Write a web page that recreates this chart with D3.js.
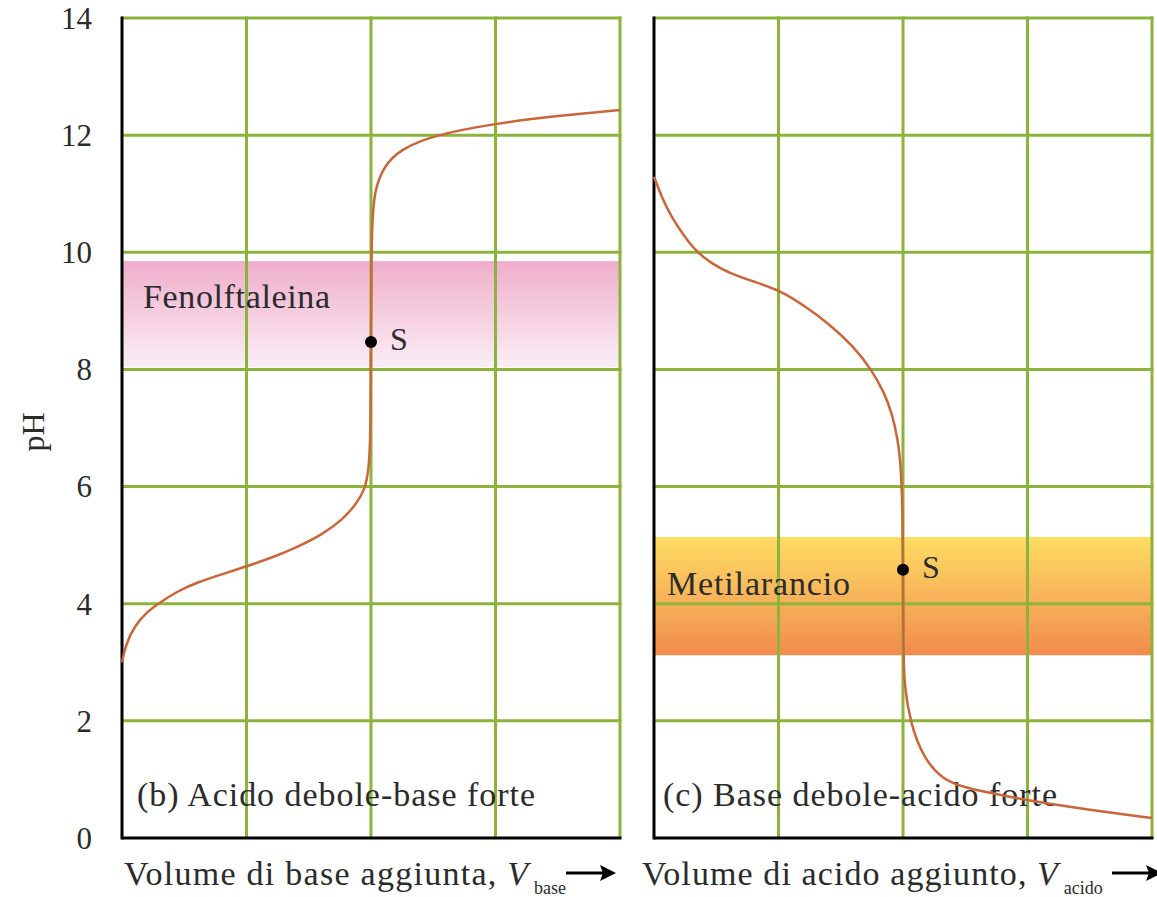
<!DOCTYPE html>
<meta charset="utf-8">
<style>
body { margin: 0; background: #fff; }
text { font-family: "Liberation Serif", "Times New Roman", serif; fill: #2b2b2b; }
.grid line { stroke: #8cb43c; stroke-width: 3; }
.axis-line { stroke: #000; stroke-width: 3; }
.curve { fill: none; stroke: #c9663a; stroke-width: 2.5; }
</style>
<body>
<svg width="1157" height="897"></svg>
<script src="https://cdn.jsdelivr.net/npm/d3@7"></script>
<script>

// data (volume in grid units 0..4, pH 0..14)
var phTicks = [0, 2, 4, 6, 8, 10, 12, 14];
var volTicks = [0, 1, 2, 3, 4];

var weakAcidVol = [0, 0.03, 0.1, 0.2, 0.29, 0.45, 0.61, 0.8, 1.0, 1.2, 1.41, 1.6, 1.77, 1.88, 1.95, 1.985, 1.997, 2.0, 2.003, 2.012, 2.03, 2.1, 2.23, 2.5, 3.0, 3.5, 4.0];
var weakAcidPH  = [3.0, 3.3, 3.62, 3.86, 4.0, 4.22, 4.37, 4.5, 4.64, 4.78, 4.97, 5.17, 5.43, 5.7, 5.94, 6.3, 7.0, 8.47, 10.0, 10.6, 11.06, 11.46, 11.75, 12.0, 12.2, 12.33, 12.43];

var weakBaseVol = [0, 0.06, 0.14, 0.25, 0.35, 0.47, 0.6, 0.8, 1.0, 1.2, 1.4, 1.6, 1.75, 1.85, 1.91, 1.96, 1.985, 1.997, 2.0, 2.003, 2.01, 2.06, 2.16, 2.32, 2.5, 2.7, 3.0, 3.5, 4.0];
var weakBasePH  = [11.29, 10.95, 10.6, 10.25, 9.99, 9.8, 9.65, 9.5, 9.36, 9.1, 8.79, 8.4, 7.99, 7.6, 7.26, 6.8, 6.3, 5.5, 4.58, 3.2, 2.6, 1.96, 1.38, 0.99, 0.86, 0.77, 0.64, 0.48, 0.34];

var equivVol = [2, 2];
var equivPH = [8.47, 4.58];

var indicatorNames = ["Fenolftaleina", "Metilarancio"];
var indicatorRanges = [[8.04, 9.85], [3.12, 5.14]];

var panelTitles = ["(b) Acido debole-base forte", "(c) Base debole-acido forte"];
var axisTitles = ["Volume di base aggiunta, ", "Volume di acido aggiunto, "];
var axisSubs = ["base", "acido"];

var svg = d3.select("svg");

var y = d3.scaleLinear().domain([0, 14]).range([838, 18]);
var xs = [
  d3.scaleLinear().domain([0, 4]).range([122, 620]),
  d3.scaleLinear().domain([0, 4]).range([654, 1152])
];

var defs = svg.append("defs");
var pink = defs.append("linearGradient").attr("id", "pink").attr("x1", 0).attr("y1", 0).attr("x2", 0).attr("y2", 1);
pink.append("stop").attr("offset", "0%").attr("stop-color", "#efaecb");
pink.append("stop").attr("offset", "100%").attr("stop-color", "#fbeef5");
var orange = defs.append("linearGradient").attr("id", "orange").attr("x1", 0).attr("y1", 0).attr("x2", 0).attr("y2", 1);
orange.append("stop").attr("offset", "0%").attr("stop-color", "#fedd62");
orange.append("stop").attr("offset", "50%").attr("stop-color", "#f8b45a");
orange.append("stop").attr("offset", "100%").attr("stop-color", "#f08c4c");
var fills = ["url(#pink)", "url(#orange)"];

var curves = [
  weakAcidVol.map(function(v, i) { return [v, weakAcidPH[i]]; }),
  weakBaseVol.map(function(v, i) { return [v, weakBasePH[i]]; })
];

var labelPos = [[143, 308], [667, 595]];

[0, 1].forEach(function(p) {
  var x = xs[p];
  var g = svg.append("g");

  // indicator band
  g.append("rect")
      .attr("x", x(0))
      .attr("width", x(4) - x(0))
      .attr("y", y(indicatorRanges[p][1]))
      .attr("height", y(indicatorRanges[p][0]) - y(indicatorRanges[p][1]))
      .attr("fill", fills[p]);

  // grid
  var grid = g.append("g").attr("class", "grid");
  grid.selectAll(".h").data(phTicks.slice(1)).enter().append("line")
      .attr("x1", x(0)).attr("x2", x(4) + 1.5)
      .attr("y1", function(d) { return y(d); })
      .attr("y2", function(d) { return y(d); });
  grid.selectAll(".v").data(volTicks.slice(1)).enter().append("line")
      .attr("y1", y(14) - 1.5).attr("y2", y(0))
      .attr("x1", function(d) { return x(d); })
      .attr("x2", function(d) { return x(d); });

  // black axes
  g.append("line").attr("class", "axis-line")
      .attr("x1", x(0)).attr("x2", x(0)).attr("y1", y(14) - 1.5).attr("y2", y(0) + 1.5);
  g.append("line").attr("class", "axis-line")
      .attr("x1", x(0)).attr("x2", x(4) + 1.5).attr("y1", y(0)).attr("y2", y(0));

  // texts inside
  g.append("text")
      .attr("x", labelPos[p][0]).attr("y", labelPos[p][1])
      .attr("font-size", 34)
      .attr("textLength", p ? 183 : 187)
      .text(indicatorNames[p]);
  g.append("text")
      .attr("x", p ? 663 : 137).attr("y", 806)
      .attr("font-size", 34)
      .attr("textLength", p ? 394 : 398)
      .text(panelTitles[p]);

  // curve
  g.append("path")
      .datum(curves[p])
      .attr("class", "curve")
      .attr("d", d3.line()
        .x(function(d) { return x(d[0]); })
        .y(function(d) { return y(d[1]); })
        .curve(d3.curveBasis));

  // equivalence point
  g.append("circle")
      .attr("cx", x(equivVol[p])).attr("cy", y(equivPH[p]))
      .attr("r", 6).attr("fill", "#000");
  g.append("text")
      .attr("x", x(equivVol[p]) + 19).attr("y", y(equivPH[p]) + 8)
      .attr("font-size", 32)
      .text("S");

  // x axis title
  var t = g.append("text")
      .attr("x", p ? 642 : 124).attr("y", 885)
      .attr("font-size", 34);
  t.append("tspan").attr("textLength", p ? 394 : 382).text(axisTitles[p]);
  t.append("tspan").attr("font-style", "italic").text("V");
  t.append("tspan").attr("font-size", 18).attr("dx", 6).attr("dy", 9).text(axisSubs[p]);

  var ax = p ? 1112 : 566;
  g.append("line")
      .attr("x1", ax).attr("x2", ax + 40).attr("y1", 873).attr("y2", 873)
      .attr("stroke", "#000").attr("stroke-width", 3);
  g.append("path")
      .attr("d", "M" + (ax + 50) + ",873 L" + (ax + 34) + ",865 L" + (ax + 37) + ",873 L" + (ax + 34) + ",881 Z")
      .attr("fill", "#000");
});

// y tick labels
svg.append("g").selectAll("text").data(phTicks).enter().append("text")
    .attr("x", 92)
    .attr("y", function(d) { return y(d); })
    .attr("dy", "0.35em")
    .attr("text-anchor", "end")
    .attr("font-size", 31)
    .attr("fill", "#3a3a3a")
    .text(function(d) { return d; });

svg.append("text")
    .attr("transform", "translate(44,432) rotate(-90)")
    .attr("text-anchor", "middle")
    .attr("font-size", 32)
    .text("pH");

</script>
</body>
